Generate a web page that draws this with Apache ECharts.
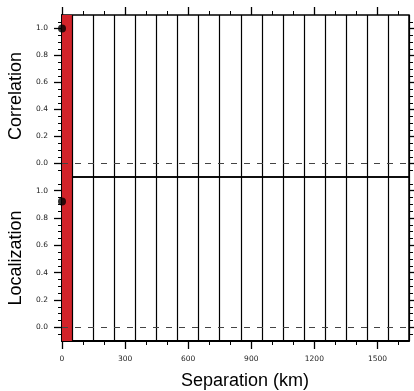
<!DOCTYPE html>
<html>
<head>
<meta charset="utf-8">
<script src="https://cdn.jsdelivr.net/npm/echarts@6/dist/echarts.min.js"></script>
<style>
  html, body { margin: 0; padding: 0; background: #fff; }
  #chart { width: 414px; height: 391px; }
</style>
</head>
<body>
<div id="chart"></div>
<script>
// Separation axis (km)
const separationTicks = [0, 300, 600, 900, 1200, 1500];
const separationMinorTicks = [100, 200, 400, 500, 700, 800, 1000, 1100, 1300, 1400, 1600];
const separationRange = [0, 1650];

// Bin edges drawn as vertical lines, and the highlighted first bin
const binEdges = [50, 150, 250, 350, 450, 550, 650, 750, 850, 950, 1050, 1150, 1250, 1350, 1450, 1550, 1650];
const highlightBin = [0, 50];

// Value axis shared by both panels
const valueRange = [-0.1, 1.1];
const valueTicks = [0, 0.2, 0.4, 0.6, 0.8, 1.0];
const valueMinorTicks = [-0.05, 0.05, 0.1, 0.15, 0.25, 0.3, 0.35, 0.45, 0.5, 0.55, 0.65, 0.7, 0.75, 0.85, 0.9, 0.95, 1.05];

// Points: [separation, value]
const correlationPoints = [[0, 1.0]];
const localizationPoints = [[0, 0.92]];

const panelTitles = ['Correlation', 'Localization'];
const xTitle = 'Separation (km)';

const FONT = '"Liberation Sans", Arial, Helvetica, sans-serif';
const TICK_FONT = '"DejaVu Sans", sans-serif';
const INK = '#000';

const grids = [
  { left: 62, top: 15, width: 347, height: 162, show: true, borderColor: INK, borderWidth: 1.5 },
  { left: 62, top: 177, width: 347, height: 164, show: true, borderColor: INK, borderWidth: 1.5 }
];

function xAxisDef(gridIndex, position, opts) {
  return Object.assign({
    type: 'value', gridIndex, position,
    min: separationRange[0], max: separationRange[1],
    axisLine: { show: false, onZero: false },
    axisTick: { show: false },
    axisLabel: { show: false },
    splitLine: { show: false }
  }, opts);
}
function yAxisDef(gridIndex, position, opts) {
  return Object.assign({
    type: 'value', gridIndex, position,
    min: valueRange[0], max: valueRange[1],
    axisLine: { show: false, onZero: false },
    axisTick: { show: false },
    axisLabel: { show: false },
    splitLine: { show: false }
  }, opts);
}
const majorTick = vals => ({ show: true, inside: false, length: 8, customValues: vals, lineStyle: { color: INK, width: 1.3 } });
const minorTick = vals => ({ show: true, inside: false, length: 4, customValues: vals, lineStyle: { color: INK, width: 1 } });
const labelStyle = { margin: 14, fontSize: 7.5, color: '#222', fontFamily: TICK_FONT };

const xAxes = [
  // upper panel: data axis (bottom, unlabeled), top tick marks
  xAxisDef(0, 'bottom', {}),
  xAxisDef(0, 'top', { axisTick: majorTick(separationTicks) }),
  xAxisDef(0, 'top', { axisTick: minorTick(separationMinorTicks) }),
  // lower panel: labelled bottom axis
  xAxisDef(1, 'bottom', {
    axisLine: { show: true, onZero: false, lineStyle: { color: INK, width: 2 } },
    axisTick: majorTick(separationTicks),
    axisLabel: Object.assign({ show: true, customValues: separationTicks, formatter: v => String(v) }, labelStyle)
  }),
  xAxisDef(1, 'bottom', { axisTick: minorTick(separationMinorTicks) })
];

const yAxes = [];
[0, 1].forEach(g => {
  yAxes.push(yAxisDef(g, 'left', {
    axisLine: { show: true, onZero: false, lineStyle: { color: INK, width: 2 } },
    axisTick: majorTick(valueTicks),
    axisLabel: Object.assign({ show: true, customValues: valueTicks, formatter: v => v.toFixed(1) }, labelStyle)
  }));
  yAxes.push(yAxisDef(g, 'left', { axisTick: minorTick(valueMinorTicks) }));
  yAxes.push(yAxisDef(g, 'right', { axisTick: majorTick(valueTicks) }));
  yAxes.push(yAxisDef(g, 'right', { axisTick: minorTick(valueMinorTicks) }));
});

function panelSeries(name, points, xIndex, yIndex) {
  return {
    name, type: 'scatter',
    xAxisIndex: xIndex, yAxisIndex: yIndex,
    data: points,
    symbol: 'circle', symbolSize: 8,
    itemStyle: { color: INK },
    clip: false, z: 10,
    markArea: {
      silent: true,
      itemStyle: { color: '#d2232a', opacity: 1 },
      data: [[{ xAxis: highlightBin[0] }, { xAxis: highlightBin[1] }]]
    },
    markLine: {
      silent: true, symbol: 'none', animation: false,
      label: { show: false },
      data: binEdges.map(e => ({ xAxis: e, lineStyle: { color: INK, width: 1.2, type: 'solid' } }))
        .concat([{ yAxis: 0, lineStyle: { color: '#444', width: 1.2, type: [6, 7] } }])
    }
  };
}

const series = [
  panelSeries(panelTitles[0], correlationPoints, 0, 0),
  panelSeries(panelTitles[1], localizationPoints, 3, 4)
];

const titleFont = '18px ' + FONT;
const graphic = [
  { type: 'text', x: 16, y: 96, rotation: Math.PI / 2,
    style: { text: panelTitles[0], font: titleFont, fill: INK, align: 'center', verticalAlign: 'middle' } },
  { type: 'text', x: 16, y: 258, rotation: Math.PI / 2,
    style: { text: panelTitles[1], font: titleFont, fill: INK, align: 'center', verticalAlign: 'middle' } },
  { type: 'text', x: 245, y: 381,
    style: { text: xTitle, font: titleFont, fill: INK, align: 'center', verticalAlign: 'middle' } }
];

const chart = echarts.init(document.getElementById('chart'), null, { renderer: 'canvas' });
chart.setOption({
  animation: false,
  backgroundColor: '#fff',
  grid: grids,
  xAxis: xAxes,
  yAxis: yAxes,
  series,
  graphic
});
</script>
</body>
</html>
